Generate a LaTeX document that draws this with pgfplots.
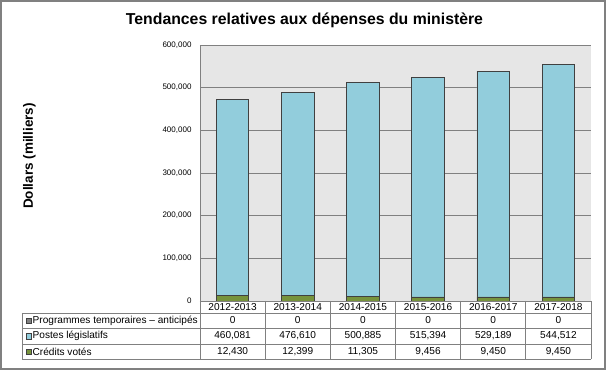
\documentclass[border=0pt]{standalone}
\usepackage{pgfplots}
\pgfplotsset{compat=1.18}
\usepackage{fontspec}
\setmainfont{Liberation Sans}
\definecolor{cblue}{RGB}{146,205,220}
\definecolor{cgreen}{RGB}{119,147,60}
\definecolor{cgray}{RGB}{128,128,128}
\definecolor{bg}{RGB}{230,230,230}
\definecolor{edge}{RGB}{64,64,64}
\definecolor{tline}{RGB}{128,128,128}
\begin{document}
\begin{tikzpicture}[x=1pt,y=1pt]
\useasboundingbox (-200,-70) rectangle (407,301);
\draw[tline, line width=1.2pt] (-199,-68) rectangle (405,300);
\begin{axis}[
  at={(0,0)}, anchor=south west,
  scale only axis, width=391pt, height=256pt,
  ybar stacked, bar width=32.6pt,
  xmin=-0.5, xmax=5.5, ymin=0, ymax=600000,
  xtick=\empty,
  ytick={0,100000,200000,300000,400000,500000,600000},
  yticklabels={0,{100,000},{200,000},{300,000},{400,000},{500,000},{600,000}},
  scaled y ticks=false,
  ymajorgrids, grid style={tline, line width=0.8pt},
  axis background/.style={fill=bg},
  axis lines*=left, axis line style={tline, line width=0.8pt, -},
  major tick length=0pt,
  yticklabel style={font=\fontsize{8}{9}\selectfont, xshift=-5pt},
]
\addplot[fill=cgreen, draw=edge, line width=0.8pt] coordinates {(0,12430) (1,12399) (2,11305) (3,9456) (4,9450) (5,9450)};
\addplot[fill=cblue, draw=edge, line width=0.8pt] coordinates {(0,460081) (1,476610) (2,500885) (3,515394) (4,529189) (5,544512)};
\addplot[fill=cgray, draw=none] coordinates {(0,0) (1,0) (2,0) (3,0) (4,0) (5,0)};
\end{axis}
% title and y label
\node[font=\bfseries\fontsize{15.8}{18}\selectfont] at (104.5,281) {Tendances relatives aux dépenses du ministère};
\node[font=\bfseries\fontsize{13.5}{15}\selectfont, rotate=90] at (-170.5,145) {Dollars (milliers)};
% table lines
\begin{scope}[tline, line width=0.8pt]
\draw (-178,-12) -- (391,-12);
\draw (-178,-27) -- (391,-27);
\draw (-178,-43) -- (391,-43);
\draw (-178,-58) -- (391,-58);
\draw (-178,-12) -- (-178,-58);
\foreach \k in {0,...,6} {\draw ({\k*65.1667},0) -- ({\k*65.1667},-58);}
\end{scope}
\begin{scope}[font=\fontsize{10.1}{11}\selectfont]
\foreach \lab [count=\i from 0] in {2012-2013,2013-2014,2014-2015,2015-2016,2016-2017,2017-2018}
  {\node at ({(\i+0.5)*65.1667},-6) {\lab};}
\foreach \v [count=\i from 0] in {0,0,0,0,0,0}
  {\node at ({(\i+0.5)*65.1667},-19.5) {\v};}
\foreach \v [count=\i from 0] in {{460,081},{476,610},{500,885},{515,394},{529,189},{544,512}}
  {\node at ({(\i+0.5)*65.1667},-35) {\v};}
\foreach \v [count=\i from 0] in {{12,430},{12,399},{11,305},{9,456},{9,450},{9,450}}
  {\node at ({(\i+0.5)*65.1667},-50.5) {\v};}
\draw[edge, fill=cgray, line width=0.4pt] (-174,-22.5) rectangle (-168.5,-17);
\draw[edge, fill=cblue, line width=0.4pt] (-174,-38) rectangle (-168.5,-32.5);
\draw[edge, fill=cgreen, line width=0.4pt] (-174,-53.5) rectangle (-168.5,-48);
\node[anchor=west, inner sep=0pt] at (-167.5,-19.5) {Programmes temporaires – anticipés};
\node[anchor=west, inner sep=0pt] at (-167.5,-35) {Postes législatifs};
\node[anchor=west, inner sep=0pt] at (-167.5,-50.5) {Crédits votés};
\end{scope}
\end{tikzpicture}
\end{document}
